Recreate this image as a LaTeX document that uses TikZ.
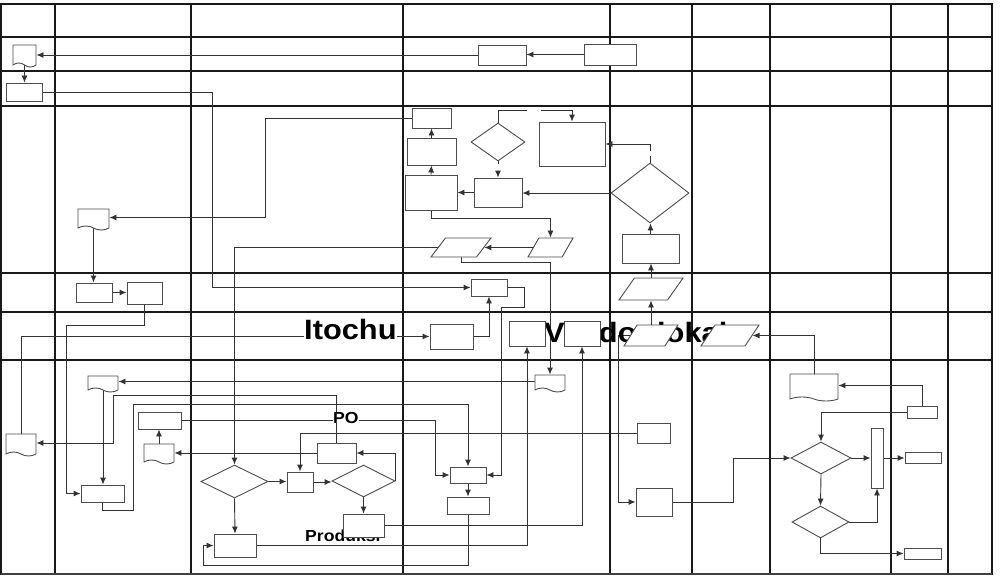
\documentclass[tikz,border=0pt]{standalone}
\usepackage{fontspec}
\setmainfont{Liberation Sans}
\usetikzlibrary{arrows.meta,shapes.geometric,shapes.symbols,backgrounds}

\begin{document}
\begin{tikzpicture}[
  x=1pt, y=-1pt,
  shapeline/.style={draw=black!70, line width=0.9pt, fill=white, inner sep=0pt},
  procbox/.style={shapeline, rectangle},
  docbox/.style={shapeline, tape, tape bend top=none, tape bend bottom=out and in, tape bend height=4pt},
  iobox/.style={shapeline, inner sep=1pt, trapezium, trapezium left angle=65, trapezium right angle=115, trapezium stretches=true},
  decision/.style={shapeline, inner sep=1pt, diamond},
  sz/.style 2 args={minimum width=#1, minimum height=#2},
  lane/.style={line width=1.8pt, black!90},
  flow/.style={draw=black!80, line width=0.9pt, -{Latex[length=7pt,width=6pt]}},
  lanelabel/.style={font=\fontsize{28}{32}\selectfont\bfseries, inner sep=0pt, anchor=base west},
  steplabel/.style={font=\fontsize{16}{19}\selectfont\bfseries, inner sep=0pt, anchor=base west}
]
\useasboundingbox (0,0) rectangle (1002,578);

\node[lanelabel, fill=white] (itochu) at (304,339) {\scalebox{1.1}[1]{Itochu}};
\node[lanelabel] (vendor) at (544,342) {\scalebox{1.1}[1]{Vendor lokal}};
\node[steplabel, fill=white] (po) at (333,423) {\scalebox{1.1}[1]{PO}};
\node[steplabel] (produksi) at (305,541) {\scalebox{1.1}[1]{Produksi}};

\node[docbox, sz={23}{22}] (d1) at (24.5,54) {};
\node[procbox, sz={48}{20}] (r1) at (502,55) {};
\node[procbox, sz={52}{21}] (r2) at (610,54.5) {};
\node[procbox, sz={36}{18}] (b1) at (24,92) {};

\node[procbox, sz={39}{20}] (c1) at (431.5,118) {};
\node[procbox, sz={49}{27}] (c2) at (431.5,151.5) {};
\node[procbox, sz={52}{35}] (c3) at (431,192.5) {};
\node[decision, sz={54}{38}] (dm1) at (498,142) {};
\node[procbox, sz={48}{29}] (c4) at (498,192.5) {};
\node[procbox, sz={66}{44}] (c5) at (572,144) {};
\node[decision, sz={78}{60}] (dm2) at (650,193) {};
\node[procbox, sz={57}{29}] (c6) at (650.5,248.5) {};
\node[iobox, sz={60}{19}] (p1) at (461,247.5) {};
\node[iobox, sz={45}{19}] (p2) at (550.5,247.5) {};
\node[docbox, sz={31}{21}] (d2) at (93.5,217.5) {};

\node[procbox, sz={36}{19}] (e1) at (94,292.5) {};
\node[procbox, sz={35}{22}] (e2) at (144.5,293) {};
\node[procbox, sz={36}{17}] (e3) at (489,287.5) {};
\node[iobox, sz={64}{22}] (p5) at (651,289) {};

\node[procbox, sz={43}{25}] (e4) at (451.5,336.5) {};
\node[procbox, sz={36}{25}] (v1) at (527,333.5) {};
\node[procbox, sz={36}{25}] (v2) at (582,333.5) {};
\node[iobox, sz={54}{21}] (p3) at (651,335.5) {};
\node[iobox, sz={58}{21}] (p4) at (730,335.5) {};

\node[docbox, sz={30}{16}] (d4) at (103,382) {};
\node[docbox, sz={30}{17}] (d5) at (550,381.5) {};
\node[docbox, sz={30}{22}] (d3) at (21,443) {};
\node[procbox, sz={43}{17}] (k1) at (159.5,420.5) {};
\node[docbox, sz={30}{20}] (d6) at (159,452) {};
\node[procbox, sz={43}{17}] (g1) at (102.5,493.5) {};
\node[procbox, sz={39}{20}] (po1) at (336.5,453) {};
\node[decision, sz={67}{33}] (dm3) at (234.5,481.5) {};
\node[procbox, sz={26}{20}] (s1) at (300,482) {};
\node[decision, sz={63}{32}] (dm4) at (363.5,481) {};
\node[procbox, sz={41}{23}] (t1) at (363.5,525.5) {};
\node[procbox, sz={42}{23}] (u1) at (235,545.5) {};
\node[procbox, sz={36}{16}] (h1) at (468,475) {};
\node[procbox, sz={42}{17}] (h2) at (468,505.5) {};
\node[procbox, sz={33}{20}] (m1) at (653.5,433) {};
\node[procbox, sz={36}{28}] (m2) at (654,502) {};
\node[docbox, sz={48}{27}] (d7) at (814,385.5) {};
\node[procbox, sz={30}{12}] (rb3) at (922,412) {};
\node[decision, sz={60}{32}] (dm5) at (821,458) {};
\node[procbox, sz={12}{60}] (q1) at (877,458) {};
\node[procbox, sz={36}{11}] (rb1) at (923,458) {};
\node[decision, sz={57}{32}] (dm6) at (820.5,522) {};
\node[procbox, sz={37}{11}] (rb2) at (922.5,553.5) {};

\begin{scope}[on background layer]
  \draw[lane] (1,4) rectangle (992,574);
  \foreach \x in {55,191,403,610,692,770,891,948}
    \draw[lane] (\x,4) -- (\x,574);
  \foreach \y in {37,71,106,273,312,360}
    \draw[lane] (1,\y) -- (992,\y);
  \draw[lane, line width=2.6pt, black!75] (1,574) -- (992,574);

  \draw[flow] (r2.west) -- (r2.west -| r1.east);
  \draw[flow] (r1.west) -- (r1.west -| d1.east);
  \draw[flow] (d1.south) -- (d1.south |- b1.north);
  \draw[flow] (b1.east) -- ++(170,0) |- (e3.west);
  \draw[flow] (c1.west) -- ++(-146,0) |- (d2.east);
  \draw[flow] (d2.south) -- (d2.south |- e1.north);
  \draw[flow] (e1.east) -- (e1.east -| e2.west);
  \draw[flow] (e2.south) -- ++(0,21) -| (66,493.5) -- (g1.west);
  \draw[flow] (d3.north) |- (e4.west);
  \draw[flow] (e4.east) -| (e3.south);
  \draw[flow] (e3.east) -- ++(17,0) -- ++(0,19.5) -- ++(-23,0) |- (h1.east);
  \draw[flow] (c3.north) -- (c2.south);
  \draw[flow] (c2.north) -- (c1.south);
  \draw[flow] (dm1.south) -- ++(0,3) ++(0,7) -- (c4.north);
  \draw[flow] (dm1.north) |- ++(29,-12) ++(14,0) -| (c5.north);
  \draw[flow] (dm2.north) -- ++(0,-7) ++(0,-5) |- (c5.east);
  \draw[flow] (dm2.west) -- (dm2.west -| c4.east);
  \draw[flow] (c4.west) -- (c4.west -| c3.east);
  \draw[flow] (c6.north) -- (c6.north |- dm2.south);
  \draw[flow] (c3.south) -- ++(0,8) -| (p2.north);
  \draw[flow] (p2.west) -- (p1.east);
  \draw[flow] (p1.west) -| (dm3.north);
  \draw[flow] (p1.south) -- ++(0,5) -| (d5.north);
  \draw[flow] (p5.north) -- (p5.north |- c6.south);
  \draw[flow] (p3.north) -- (p3.north |- p5.south);
  \draw[flow] (d5.west) -- (d5.west -| d4.east);
  \draw[flow] (d4.south) -- (d4.south |- g1.north);
  \draw[flow] (po1.north) |- (113,395) |- (d3.east);
  \draw[flow] (g1.south) -- ++(0,8) -| (133,404) -| (h1.north);
  \draw[flow] (k1.east) -- ++(254,0) |- (h1.west);
  \draw[flow] (d6.north) -- (d6.north |- k1.south);
  \draw[flow] (po1.west) -- (po1.west -| d6.east);
  \draw[flow] (m1.west) -| (s1.north);
  \draw[flow] (dm3.east) -- (dm3.east -| s1.west);
  \draw[flow] (s1.east) -- (s1.east -| dm4.west);
  \draw[flow] (dm4.east) |- (po1.east);
  \draw[flow] (dm4.south) -- (t1.north);
  \draw[flow] (dm3.south) -- (u1.north);
  \draw[flow] (h1.south) -- (h2.north);
  \draw[flow] (h2.south) |- (203,565) |- (u1.west);
  \draw[flow] (u1.east) -| (v1.south);
  \draw[flow] (t1.east) -| (v2.south);
  \draw[flow] (p3.west) -- ++(-12,0) |- (m2.west);
  \draw[flow] (m2.east) -- ++(61,0) |- (dm5.west);
  \draw[flow] (dm5.east) -- (dm5.east -| q1.west);
  \draw[flow] (q1.east) -- (q1.east -| rb1.west);
  \draw[flow] (dm5.south) -- (dm6.north);
  \draw[flow] (dm6.east) -| (q1.south);
  \draw[flow] (dm6.south) |- (rb2.west);
  \draw[flow] (rb3.west) -| (dm5.north);
  \draw[flow] (rb3.north) |- (d7.east);
  \draw[flow] (d7.north) |- (p4.east);
\end{scope}
\end{tikzpicture}
\end{document}
